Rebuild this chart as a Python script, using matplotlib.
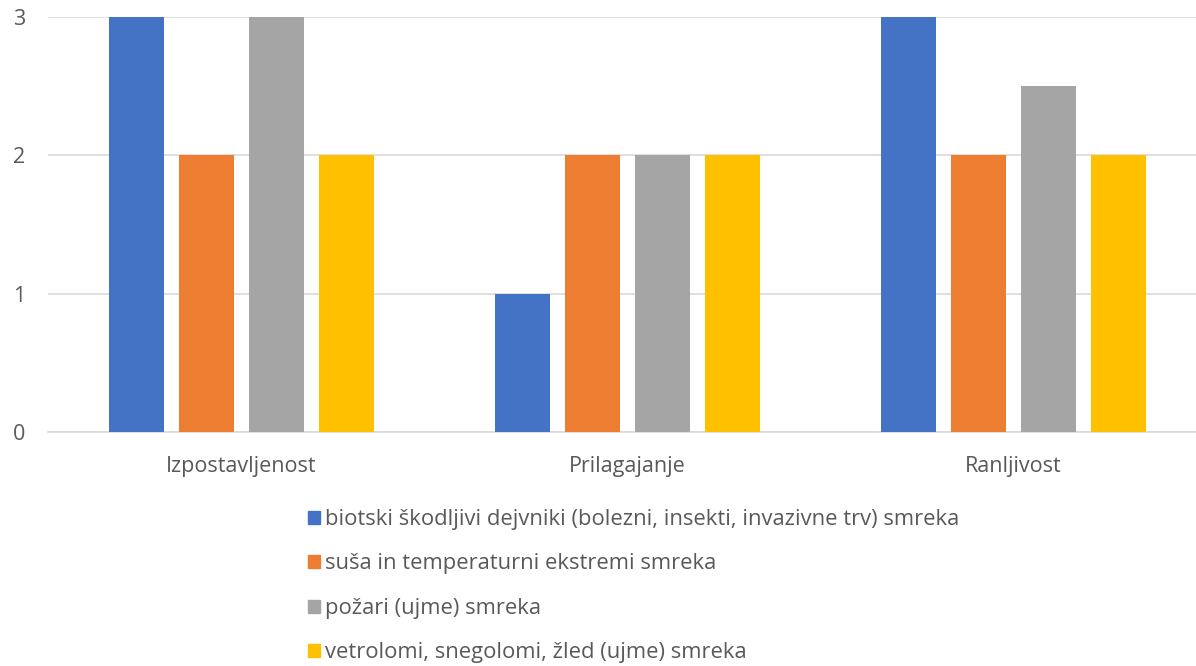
import numpy as np
import matplotlib.pyplot as plt
from matplotlib.patches import Patch

plt.rcParams['font.family'] = ['Open Sans', 'DejaVu Sans']

categories = ['Izpostavljenost', 'Prilagajanje', 'Ranljivost']
series = [
    'biotski škodljivi dejvniki (bolezni, insekti, invazivne trv) smreka',
    'suša in temperaturni ekstremi smreka',
    'požari (ujme) smreka',
    'vetrolomi, snegolomi, žled (ujme) smreka',
]
values = [
    [3, 1, 3],
    [2, 2, 2],
    [3, 2, 2.5],
    [2, 2, 2],
]
colors = ['#4472c4', '#ed7d31', '#a5a5a5', '#ffc000']

W, H = 1196, 666
fig = plt.figure(figsize=(W / 100, H / 100), dpi=100)
ax = fig.add_axes([48 / W, 1 - 432 / H, (1206 - 48) / W, 415 / H])

x = np.arange(len(categories))
step = 70 / 386
width = 55 / 386
for i, (name, vals) in enumerate(zip(series, values)):
    ax.bar(x + (i - 1.5) * step, vals, width, color=colors[i], label=name, zorder=3)

ax.set_xlim(-0.5, len(categories) - 0.5)
ax.set_ylim(0, 3)
ax.set_yticks([0, 1, 2, 3])
ax.set_xticks(x)
ax.set_xticklabels(categories)
ax.grid(axis='y', color='#d9d9d9', linewidth=1.2, zorder=0)
ax.tick_params(length=0, labelsize=15.5, colors='#595959')
ax.tick_params(axis='x', pad=17)
ax.tick_params(axis='y', pad=16.5)
for s in ['top', 'right', 'left']:
    ax.spines[s].set_visible(False)
ax.spines['bottom'].set_color('#d9d9d9')
ax.spines['bottom'].set_linewidth(1.2)
ax.spines['bottom'].set_zorder(0)

handles = [Patch(color=c) for c in colors]
leg = fig.legend(handles, series, loc='upper left', bbox_to_anchor=(308 / W, 1 - 509 / H),
                 frameon=False, fontsize=15.8, labelspacing=1.07, handlelength=0.55,
                 handleheight=0.55, handletextpad=0.22, borderaxespad=0, borderpad=0)
for t in leg.get_texts():
    t.set_color('#595959')

fig.savefig('out.png', dpi=100)
